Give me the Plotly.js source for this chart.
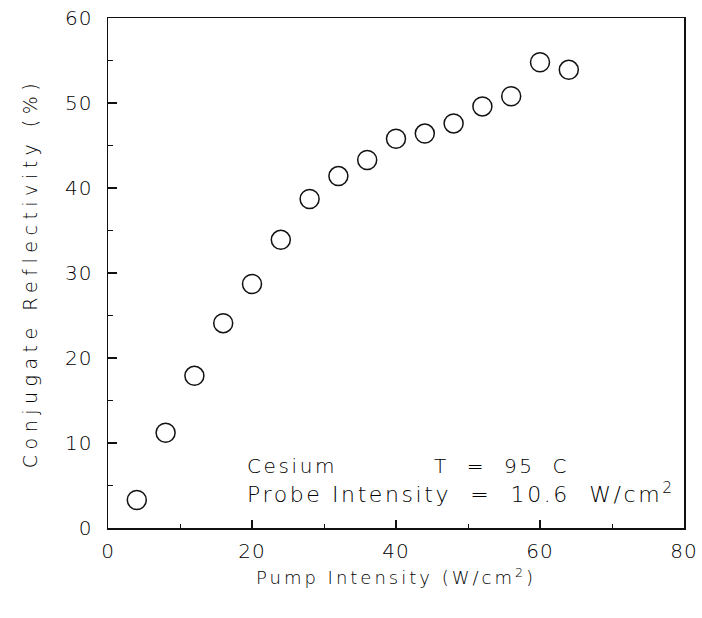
<!DOCTYPE html>
<html>
<head>
<meta charset="utf-8">
<script src="https://cdn.plot.ly/plotly-3.0.1.min.js"></script>
<style>
html,body{margin:0;padding:0;background:#fff;}
#chart{width:702px;height:618px;}
#chart g.xtick text, #chart g.ytick text{letter-spacing:1px;}
#chart text.xtitle{letter-spacing:3px;}
#chart text.ytitle{letter-spacing:5.5px;}
#chart text.annotation-text{letter-spacing:2.6px;}
</style>
</head>
<body>
<div id="chart"></div>
<script>
var pumpIntensity = [4, 8, 12, 16, 20, 24, 28, 32, 36, 40, 44, 48, 52, 56, 60, 64];
var reflectivity = [3.3, 11.2, 17.9, 24.1, 28.7, 33.9, 38.7, 41.4, 43.3, 45.8, 46.4, 47.6, 49.6, 50.8, 54.8, 53.9];
var xTickVals = [0, 20, 40, 60, 80];
var yTickVals = [0, 10, 20, 30, 40, 50, 60];

var fontFam = "DejaVu Sans, Liberation Sans, sans-serif";
var txtColor = '#000';
var trace = {
  x: pumpIntensity,
  y: reflectivity,
  type: 'scatter',
  mode: 'markers',
  marker: {symbol: 'circle-open', size: 19, color: '#111', line: {width: 1.5, color: '#111'}},
  hoverinfo: 'none'
};
var layout = {
  width: 702, height: 618,
  margin: {l: 108, r: 18, t: 18, b: 90},
  paper_bgcolor: '#fff', plot_bgcolor: '#fff',
  showlegend: false,
  font: {family: fontFam, color: txtColor, weight: 200},
  xaxis: {
    range: [0, 80], tickvals: xTickVals, ticktext: xTickVals.map(String),
    ticks: 'inside', ticklen: 8, tickwidth: 1.2, tickcolor: '#111',
    minor: {dtick: 10, tick0: 0, ticks: 'inside', ticklen: 4, tickcolor: '#111', tickwidth: 1},
    showgrid: false, zeroline: false,
    showline: true, linecolor: '#111', linewidth: 1.5, mirror: true,
    tickfont: {size: 20, color: txtColor, family: fontFam, weight: 200},
    ticklabelstandoff: 4,
    title: {text: 'Pump Intensity (W/cm<sup>2</sup>)', font: {size: 18, color: txtColor, family: fontFam, weight: 200}, standoff: 10}
  },
  yaxis: {
    range: [0, 60], tickvals: yTickVals, ticktext: yTickVals.map(String),
    ticks: 'inside', ticklen: 9, tickwidth: 1.2, tickcolor: '#111',
    minor: {dtick: 5, tick0: 0, ticks: 'inside', ticklen: 5, tickcolor: '#111', tickwidth: 1},
    showgrid: false, zeroline: false,
    showline: true, linecolor: '#111', linewidth: 1.5, mirror: true,
    tickfont: {size: 20, color: txtColor, family: fontFam, weight: 200},
    ticklabelstandoff: 10,
    title: {text: 'Conjugate Reflectivity (%)', font: {size: 19, color: txtColor, family: fontFam, weight: 200}, standoff: 24}
  },
  annotations: [
    {x: 19, y: 7.3, xref: 'x', yref: 'y', text: 'Cesium', showarrow: false, xanchor: 'left', align: 'left', yanchor: 'middle', font: {size: 20, color: txtColor, family: fontFam, weight: 200}},
    {x: 45, y: 7.3, xref: 'x', yref: 'y', text: 'T  =  95  C', showarrow: false, xanchor: 'left', align: 'left', yanchor: 'middle', font: {size: 20, color: txtColor, family: fontFam, weight: 200}},
    {x: 19, y: 4.1, xref: 'x', yref: 'y', text: 'Probe Intensity  =  10.6  W/cm<sup>2</sup>', showarrow: false, xanchor: 'left', align: 'left', yanchor: 'middle', font: {size: 22, color: txtColor, family: fontFam, weight: 200}}
  ]
};
Plotly.newPlot('chart', [trace], layout, {displayModeBar: false, staticPlot: true});
</script>
</body>
</html>
